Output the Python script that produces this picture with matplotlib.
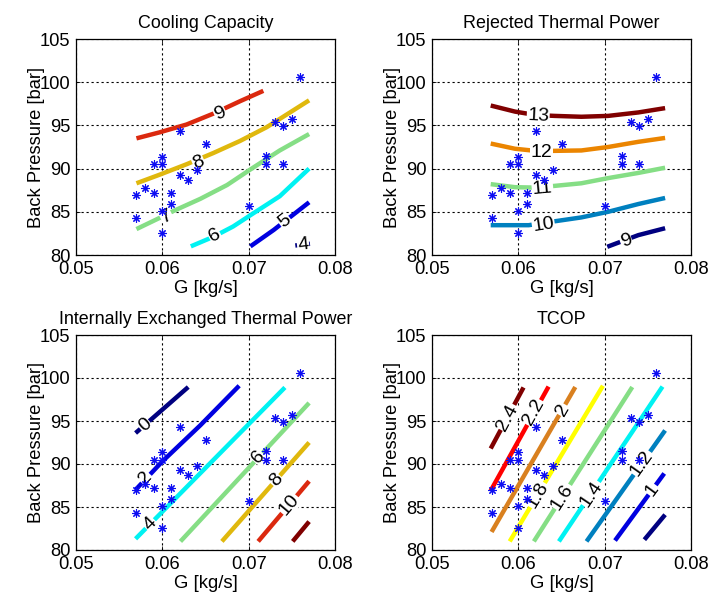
import numpy as np
import matplotlib
matplotlib.use("Agg")
import matplotlib.pyplot as plt

plt.rcParams['font.family'] = ['Liberation Sans', 'DejaVu Sans']

# ---------------- data ----------------
# measured operating points (same in all four panels)
pts_G = [0.0760, 0.0730, 0.0740, 0.0750, 0.0620, 0.0650, 0.0720, 0.0720, 0.0740,
         0.0600, 0.0600, 0.0590, 0.0620, 0.0640, 0.0630, 0.0580, 0.0570, 0.0590,
         0.0610, 0.0610, 0.0600, 0.0700, 0.0570, 0.0600]
pts_P = [100.6, 95.4, 94.9, 95.7, 94.3, 92.8, 91.5, 90.5, 90.5,
         91.4, 90.5, 90.5, 89.3, 89.8, 88.7, 87.7, 87.0, 87.2,
         87.2, 85.9, 85.1, 85.7, 84.3, 82.6]

# Cooling capacity contours
cool_levels = ['4', '5', '6', '7', '8', '9']
cool_x = [[0.0754, 0.0771],
          [0.0702, 0.0729, 0.0770],
          [0.0633, 0.0659, 0.0682, 0.0705, 0.0736, 0.0770],
          [0.0570, 0.0597, 0.0613, 0.0644, 0.0675, 0.0705, 0.0736, 0.0770],
          [0.0570, 0.0597, 0.0628, 0.0659, 0.0690, 0.0721, 0.0770],
          [0.0570, 0.0597, 0.0628, 0.0660, 0.0690, 0.0717]]
cool_y = [[81.1, 81.3],
          [81.0, 82.9, 86.1],
          [81.0, 82.1, 83.3, 84.8, 86.8, 90.0],
          [83.0, 84.3, 85.1, 86.5, 88.1, 90.1, 92.1, 94.0],
          [88.3, 89.3, 90.5, 91.8, 93.2, 94.8, 97.9],
          [93.5, 94.2, 95.1, 96.4, 97.8, 99.0]]
cool_lab_x = [0.0763, 0.0742, 0.0661, 0.0605, 0.0642, 0.0667]
cool_lab_y = [81.2, 83.9, 82.2, 84.4, 90.7, 96.4]

# Rejected thermal power contours
rej_levels = ['9', '10', '11', '12', '13']
rej_x = [[0.0703, 0.0739, 0.0770],
         [0.0568, 0.0612, 0.0642, 0.0673, 0.0704, 0.0739, 0.0770],
         [0.0568, 0.0596, 0.0620, 0.0642, 0.0673, 0.0704, 0.0739, 0.0770],
         [0.0568, 0.0596, 0.0620, 0.0639, 0.0673, 0.0704, 0.0739, 0.0770],
         [0.0568, 0.0596, 0.0620, 0.0642, 0.0673, 0.0704, 0.0739, 0.0770]]
rej_y = [[80.95, 82.3, 83.1],
         [83.45, 83.45, 83.9, 84.35, 85.0, 85.9, 86.6],
         [88.2, 87.85, 87.8, 88.0, 88.3, 88.9, 89.5, 90.1],
         [92.9, 92.3, 92.05, 92.05, 92.1, 92.5, 93.1, 93.55],
         [97.3, 96.6, 96.2, 96.1, 96.0, 96.1, 96.5, 97.0]]
rej_lab_x = [0.0725, 0.0629, 0.0628, 0.0627, 0.0623]
rej_lab_y = [81.6, 83.5, 87.7, 91.9, 96.1]

# Internally exchanged thermal power contours
int_levels = ['0', '2', '4', '6', '8', '10', '12']
int_x = [[0.0569, 0.0630],
         [0.0569, 0.0600, 0.0644, 0.0689],
         [0.0569, 0.0742],
         [0.0621, 0.0770],
         [0.0669, 0.0770],
         [0.0711, 0.0770],
         [0.0751, 0.0770]]
int_y = [[93.6, 98.95],
         [87.0, 90.3, 94.5, 99.1],
         [81.3, 98.9],
         [81.0, 97.1],
         [81.0, 92.5],
         [81.0, 88.0],
         [81.0, 83.3]]
int_lab_x = [0.0580, 0.0580, 0.0586, 0.0711, 0.0732, 0.0747, None]
int_lab_y = [94.5, 88.4, 83.0, 90.8, 88.1, 85.3, None]

# TCOP contours
tcop_levels = ['0.8', '1', '1.2', '1.4', '1.6', '1.8', '2', '2.2', '2.4']
tcop_x = [[0.0746, 0.0770],
          [0.0712, 0.0769],
          [0.0679, 0.0770],
          [0.0647, 0.0767],
          [0.0618, 0.0732],
          [0.0590, 0.0698],
          [0.0569, 0.0666],
          [0.0568, 0.0635],
          [0.0568, 0.0606]]
tcop_y = [[81.2, 84.1],
          [81.1, 88.9],
          [81.0, 93.9],
          [81.0, 99.0],
          [81.0, 98.95],
          [81.0, 99.1],
          [82.1, 98.95],
          [86.9, 99.0],
          [91.8, 98.9]]
tcop_lab_x = [None, 0.0755, 0.0743, 0.0685, 0.0651, 0.0622, 0.0651, 0.0618, 0.0588]
tcop_lab_y = [None, 87.0, 90.1, 86.5, 86.2, 86.4, 96.3, 96.0, 95.4]

# ---------------- styles ----------------
NAVY = (0.0, 0.0, 0.50)
BLUE = (0.0, 0.0, 0.88)
TEAL = (0.0, 0.50, 0.75)
CYAN = (0.0, 0.95, 0.95)
LGREEN = (0.52, 0.87, 0.52)
GOLD = (0.88, 0.72, 0.05)
YELLOW = (1.0, 1.0, 0.0)
ORANGE = (0.92, 0.52, 0.0)
BROWNOR = (0.85, 0.50, 0.12)
RED = (0.86, 0.16, 0.06)
PRED = (1.0, 0.0, 0.0)
DRED = (0.50, 0.0, 0.0)

cool_cols = [NAVY, BLUE, CYAN, LGREEN, GOLD, RED]
rej_cols = [NAVY, TEAL, LGREEN, ORANGE, DRED]
int_cols = [NAVY, BLUE, CYAN, LGREEN, GOLD, RED, DRED]
tcop_cols = [NAVY, BLUE, TEAL, CYAN, LGREEN, YELLOW, BROWNOR, PRED, DRED]

fig = plt.figure(figsize=(7.09, 5.95), dpi=100)
W, H = 709.0, 595.0
positions = [
    [76 / W, (595 - 255) / H, 259 / W, 216 / H],
    [432 / W, (595 - 255) / H, 259 / W, 216 / H],
    [76 / W, (595 - 550) / H, 259 / W, 215 / H],
    [432 / W, (595 - 550) / H, 259 / W, 215 / H],
]
titles = ['Cooling Capacity', 'Rejected Thermal Power',
          'Internally Exchanged Thermal Power', 'TCOP']
panels = [
    (cool_levels, cool_x, cool_y, cool_lab_x, cool_lab_y, cool_cols),
    (rej_levels, rej_x, rej_y, rej_lab_x, rej_lab_y, rej_cols),
    (int_levels, int_x, int_y, int_lab_x, int_lab_y, int_cols),
    (tcop_levels, tcop_x, tcop_y, tcop_lab_x, tcop_lab_y, tcop_cols),
]


def label_angle(ax, xs, ys, lx):
    xs = np.asarray(xs)
    i = int(np.clip(np.searchsorted(xs, lx), 1, len(xs) - 1))
    p0 = ax.transData.transform((xs[i - 1], ys[i - 1]))
    p1 = ax.transData.transform((xs[i], ys[i]))
    ang = np.degrees(np.arctan2(p1[1] - p0[1], p1[0] - p0[0]))
    if ang > 90:
        ang -= 180
    if ang < -90:
        ang += 180
    return ang


for k, (pos, title, panel) in enumerate(zip(positions, titles, panels)):
    levels, lx, ly, labx, laby, cols = panel
    ax = fig.add_axes(pos)
    ax.set_xlim(0.05, 0.08)
    ax.set_ylim(80, 105)
    ax.set_xticks([0.05, 0.06, 0.07, 0.08])
    ax.set_xticklabels(['0.05', '0.06', '0.07', '0.08'])
    ax.set_yticks([80, 85, 90, 95, 100, 105])
    ax.tick_params(direction='in', length=3, width=0.6, labelsize=13.2,
                   pad=4, top=True, right=True, colors='black')
    ax.grid(True, color='black', linestyle=(0, (2.0, 2.5)), linewidth=0.8)
    ax.set_axisbelow(True)
    for sp in ax.spines.values():
        sp.set_linewidth(0.9)
    ax.set_title(title, fontsize=12.9, pad=8)
    ax.set_xlabel('G [kg/s]', fontsize=13.3)
    ax.set_ylabel('Back Pressure [bar]', fontsize=13.2)
    ax.xaxis.set_label_coords(0.5, -0.115)
    ax.yaxis.set_label_coords(-0.118, 0.5)

    for lev, xs, ys, c in zip(levels, lx, ly, cols):
        ax.plot(xs, ys, color=c, lw=3.2, solid_capstyle='butt', zorder=3)
    for lev, xs, ys, tx, ty in zip(levels, lx, ly, labx, laby):
        if tx is None:
            continue
        ang = label_angle(ax, xs, ys, tx)
        ax.text(tx, ty, lev, fontsize=14, ha='center', va='center',
                rotation=ang, rotation_mode='anchor', zorder=4,
                bbox=dict(facecolor='white', edgecolor='none', pad=0.4))
    ax.plot(pts_G, pts_P, linestyle='none', marker=(8, 2, 0), markersize=6,
            markeredgewidth=0.8, color=(0.05, 0.05, 0.95), zorder=5)

fig.savefig('out.png', dpi=100)
